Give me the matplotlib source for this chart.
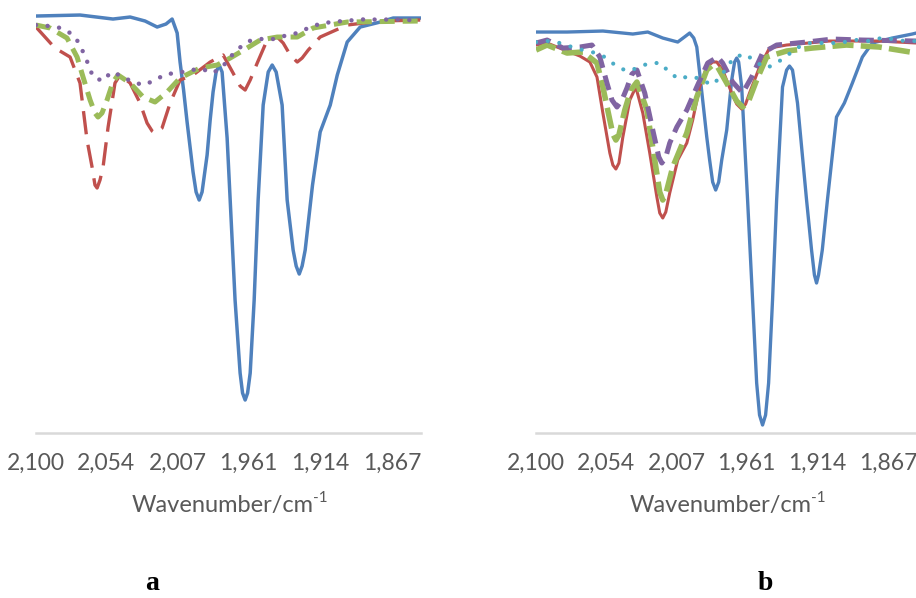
import matplotlib
matplotlib.use("Agg")
import matplotlib.pyplot as plt

# ---- panel a : wavenumber (cm-1) and transmittance (arb.)
a_blue_x = [2100, 2071.2, 2049.6, 2038.4, 2028.6, 2020.7, 2014.9, 2010.9, 2007.6, 2005.7, 2003.4,
            2001.1, 1997.2, 1995.2, 1993.2, 1991.3, 1988.0, 1986.0, 1984.1, 1982.1, 1980.1, 1978.2,
            1974.9, 1972.9, 1969.7, 1966.4, 1964.8, 1963.1, 1961.5, 1959.8, 1957.2, 1954.6, 1951.3,
            1948.0, 1945.4, 1942.8, 1938.9, 1935.6, 1931.7, 1929.7, 1927.7, 1925.8, 1923.8, 1919.0,
            1914.0, 1907.4, 1902.8, 1896.3, 1887.8, 1874.7, 1866.2, 1848.5]
a_blue_y = [104.25, 104.5, 103.5, 104, 103, 101.5, 102.25, 103.5, 100, 92.75, 85.75,
            77.75, 65.25, 60.25, 58.25, 60.25, 69.5, 78.25, 85.25, 90.25, 92, 90.25,
            73.75, 58.25, 33.25, 15, 10, 8.25, 10, 15, 33.25, 58.25, 82,
            90.25, 92, 90.25, 82, 58.25, 45.75, 41.75, 39.75, 41.75, 45.75, 62,
            75.25, 82, 89.5, 97.75, 101.5, 102.75, 103.75, 103.75]

a_red_x = [2100, 2087.6, 2077.7, 2071.2, 2066.6, 2063.3, 2061.4, 2060.0, 2058.1, 2056.1, 2052.8,
           2048.3, 2045.0, 2038.4, 2031.9, 2027.3, 2024.0, 2022.1, 2017.5, 2012.2, 2005.7, 1997.2,
           1986.0, 1977.5, 1971.0, 1966.4, 1963.1, 1959.8, 1955.2, 1948.7, 1942.1, 1938.2, 1933.6,
           1929.0, 1925.8, 1921.8, 1914.0, 1896.3, 1874.7, 1848.5]
a_red_y = [101.5, 96.25, 94, 87.5, 73.25, 66.5, 62, 61.25, 63.25, 66.5, 76.5,
           87.5, 89.5, 87.5, 82.5, 77.5, 75.5, 75, 76.25, 82.5, 88.25, 89.5,
           92.75, 94.5, 90, 86.75, 85.75, 88.25, 92.5, 98.25, 99, 97.5, 94.5,
           92.75, 93.75, 95.75, 99, 102, 103, 103.25]

a_green_x = [2100, 2090.8, 2079.7, 2073.1, 2069.2, 2064.6, 2061.4, 2059.4, 2056.8, 2053.5, 2049.6,
             2046.3, 2038.4, 2029.9, 2022.1, 2014.2, 2005.7, 1992.6, 1981.4, 1972.9, 1961.8, 1953.3,
             1942.1, 1929.0, 1918.6, 1896.3, 1848.5]
a_green_y = [102, 101.25, 98.75, 94, 89, 83.25, 80, 79, 80, 83.25, 87.75,
             89.5, 87.5, 84, 82.75, 85.25, 88.75, 91.25, 92, 93.75, 96.25, 98.25,
             99, 99, 101.25, 102.75, 103]

a_purple_x = [2100, 2091.5, 2083.6, 2076.4, 2071.8, 2068.6, 2065.3, 2062.7, 2056.1, 2050.9, 2043.7,
              2037.1, 2029.3, 2022.1, 2014.9, 2007.0, 1999.1, 1991.3, 1984.1, 1977.5, 1972.9, 1967.0,
              1960.5, 1953.3, 1944.8, 1937.6, 1929.0, 1921.8, 1914.6, 1906.8, 1898.9, 1891.1, 1882.5,
              1874.7, 1866.8, 1858.9, 1848.5]
a_purple_y = [102, 101.75, 101.25, 99.75, 97.5, 94.75, 91.75, 89, 88, 90.25, 89.25,
              87.75, 87, 88.25, 89.75, 90, 90.75, 91, 90, 91.75, 94, 96.25,
              98, 98.5, 98.5, 99.25, 100, 101.25, 102.25, 102.75, 103, 103.25, 103.5,
              103.25, 103.5, 103.25, 103.25]

# ---- panel b
b_blue_x = [2100, 2079.5, 2055.8, 2036.0, 2026.1, 2016.2, 2006.3, 2001.0, 1998.4, 1995.7, 1993.7,
            1989.8, 1987.1, 1985.2, 1983.2, 1981.2, 1979.2, 1977.2, 1973.9, 1970.6, 1968.7, 1967.3,
            1966.0, 1964.0, 1960.1, 1956.8, 1954.1, 1952.2, 1950.2, 1948.2, 1946.2, 1943.6, 1940.9,
            1937.0, 1934.3, 1932.4, 1930.4, 1927.1, 1921.1, 1917.8, 1915.9, 1914.5, 1913.2, 1910.7,
            1907.3, 1901.3, 1896.1, 1890.8, 1884.2, 1877.6, 1864.4, 1851.2, 1848.5]
b_blue_y = [100.25, 100.25, 100.5, 99.75, 100.25, 98.75, 97.75, 99.25, 100, 98.75, 96.5,
            83.25, 74, 68.25, 62.75, 60.75, 62.75, 68.25, 75.75, 88.25, 92.75, 93.75,
            92.75, 86.5, 58.25, 33.25, 12.5, 4.5, 2, 4.5, 12.5, 33.25, 58.25,
            86.5, 90.75, 91.75, 90.75, 82.5, 58.25, 45.75, 39.5, 37.5, 39.5, 45.75,
            58.25, 79, 82.5, 87.5, 94, 97.5, 98.75, 99.75, 100]

b_red_x = [2100, 2092.7, 2079.5, 2071.0, 2064.4, 2059.7, 2055.8, 2051.2, 2049.2, 2047.2, 2045.2,
           2042.6, 2038.0, 2034.0, 2029.4, 2024.8, 2020.1, 2018.2, 2016.2, 2014.2, 2011.6, 2006.3,
           2000.3, 1996.4, 1991.8, 1987.1, 1983.2, 1980.5, 1976.6, 1970.6, 1967.3, 1964.0, 1961.4,
           1958.8, 1952.2, 1945.6, 1934.3, 1906.0, 1873.0, 1848.5]
b_red_y = [97, 97.5, 95.5, 94.25, 92.75, 89, 80, 70, 67, 66, 67.5,
           74, 83.25, 86.5, 80, 70, 59, 55, 53.75, 55.25, 60, 68.25,
           72.5, 78.25, 86.5, 91.5, 92.75, 92.75, 90.75, 85, 82.25, 81, 82.25,
           85, 91.5, 96.25, 97, 98, 98, 97.5]

b_green_x = [2100, 2092.7, 2079.5, 2069.0, 2059.7, 2055.8, 2051.2, 2049.2, 2047.2, 2045.2, 2041.3,
             2037.3, 2033.3, 2026.7, 2021.5, 2018.2, 2016.2, 2014.2, 2009.6, 2000.3, 1993.7, 1987.1,
             1983.2, 1979.9, 1973.9, 1967.3, 1963.4, 1959.4, 1954.1, 1947.5, 1934.3, 1917.2, 1894.7,
             1873.0, 1848.5]
b_green_y = [95.75, 97, 95, 95.25, 92.5, 86.5, 78.25, 74.75, 73.25, 74.5, 80.75,
             85.75, 87.75, 80.75, 68.25, 60.25, 58.25, 59.75, 66.5, 75, 84, 90.75,
             92, 91.5, 87.5, 83, 81.5, 83, 88.25, 94, 95.5, 96.25, 97,
             96.5, 95]

b_purple_x = [2100, 2092.7, 2082.2, 2071.0, 2063.0, 2057.8, 2053.1, 2049.8, 2046.5, 2043.2, 2039.9,
              2036.6, 2033.3, 2028.1, 2022.8, 2018.8, 2016.8, 2014.2, 2011.6, 2006.9, 2000.3, 1993.7,
              1986.5, 1979.9, 1976.6, 1970.0, 1963.4, 1957.4, 1950.2, 1940.9, 1921.1, 1904.0, 1884.2,
              1848.5]
b_purple_y = [97.5, 98.25, 96.25, 96.5, 97, 94, 87.5, 83.25, 81.5, 83.25, 86.25,
              89.75, 90.75, 85, 75.75, 69, 67.5, 69, 72.5, 76.5, 80.75, 86.5,
              92.5, 94, 92.5, 87.75, 85, 89, 95, 97, 97.75, 98.5, 98.25,
              98]

b_cyan_x = [2100, 2092.1, 2084.2, 2076.2, 2069.0, 2060.4, 2053.1, 2047.2, 2039.9, 2032.7, 2025.4,
            2017.5, 2012.2, 2005.6, 1998.4, 1991.1, 1983.8, 1977.9, 1973.3, 1968.7, 1961.4, 1954.8,
            1947.5, 1940.9, 1934.3, 1927.7, 1919.8, 1911.9, 1904.0, 1896.1, 1888.1, 1880.2, 1871.6,
            1864.4, 1856.5, 1848.5]
b_cyan_y = [97.75, 98, 97.5, 96.5, 95.75, 95, 93.75, 91.75, 90.5, 91.25, 92.5,
            92.5, 90.25, 88.5, 89.25, 88.5, 87, 89, 91.75, 94, 94.75, 92.75,
            91.25, 92.5, 94.25, 96.25, 97.5, 97.5, 97.5, 97.75, 98.25, 98, 98.75,
            98.5, 98, 98]

tick_values = [2100, 2054, 2007, 1961, 1914, 1867]
tick_labels = ["2,100", "2,054", "2,007", "1,961", "1,914", "1,867"]

blue = "#4F81BD"
red = "#C0504D"
green = "#9BBB59"
purple = "#8064A2"
cyan = "#4BACC6"
grey = "#595959"

fig = plt.figure(figsize=(9.16, 5.98), dpi=100)
ax1 = fig.add_axes([0.0393, 0.2759, 0.4203, 0.709])
ax2 = fig.add_axes([0.5852, 0.2759, 0.4160, 0.709])

# panel a
ax1.plot(a_blue_x, a_blue_y, color=blue, lw=2.5, solid_joinstyle="round")
ax1.plot(a_red_x, a_red_y, color=red, lw=2.4, linestyle=(0, (7, 3.2)))
ax1.plot(a_green_x, a_green_y, color=green, lw=3.6, linestyle=(0, (3, 1.6)))
ax1.plot(a_purple_x, a_purple_y, color=purple, lw=3.2, linestyle=(0, (0.01, 2.6)),
         dash_capstyle="round")

# panel b
ax2.plot(b_blue_x, b_blue_y, color=blue, lw=2.4, solid_joinstyle="round")
ax2.plot(b_red_x, b_red_y, color=red, lw=2.2, solid_joinstyle="round")
ax2.plot(b_green_x, b_green_y, color=green, lw=4.0, linestyle=(0, (3.8, 1.3)))
ax2.plot(b_purple_x, b_purple_y, color=purple, lw=3.6, linestyle=(0, (3, 1.6)))
ax2.plot(b_cyan_x, b_cyan_y, color=cyan, lw=3.0, linestyle=(0, (0.01, 2.8)),
         dash_capstyle="round")

for ax in (ax1, ax2):
    ax.set_xlim(2100, 1848)
    ax.set_ylim(0, 106)
    for s in ("left", "right", "top"):
        ax.spines[s].set_visible(False)
    ax.spines["bottom"].set_color("#D9D9D9")
    ax.spines["bottom"].set_linewidth(1.8)
    ax.set_yticks([])
    ax.set_xticks(tick_values)
    ax.set_xticklabels(tick_labels, fontfamily="Lato", fontsize=16.5, color=grey)
    ax.tick_params(axis="x", length=0, pad=14)
    lab = ax.text(0.484, -0.17, "Wavenumber/cm", transform=ax.transAxes, ha="center",
                  va="center", fontfamily="Lato", fontsize=17, color=grey)
    ax.annotate("-1", xy=(1, 0.82), xycoords=lab, ha="left", va="center",
                fontfamily="Lato", fontsize=11, color=grey)
    ax.set_facecolor("none")

fig.text(0.166, 0.004, "a", ha="center", va="bottom", fontfamily="Liberation Serif",
         fontweight="bold", fontsize=20)
fig.text(0.835, 0.004, "b", ha="center", va="bottom", fontfamily="Liberation Serif",
         fontweight="bold", fontsize=20)

fig.savefig("out.png", dpi=100)
